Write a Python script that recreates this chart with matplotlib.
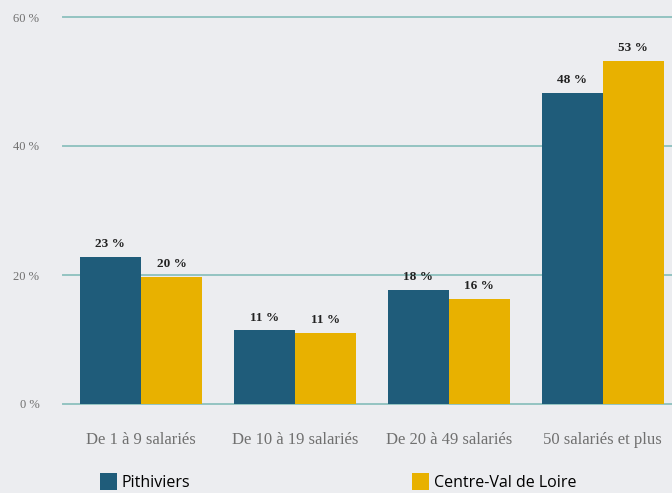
import matplotlib.pyplot as plt
import numpy as np

categories = ['De 1 à 9 salariés', 'De 10 à 19 salariés', 'De 20 à 49 salariés', '50 salariés et plus']
pithiviers = [22.8, 11.4, 17.7, 48.2]
centre = [19.7, 11.0, 16.3, 53.2]
pith_labels = ['23 %', '11 %', '18 %', '48 %']
centre_labels = ['20 %', '11 %', '16 %', '53 %']
yticks = [0, 20, 40, 60]

blue = '#1f5c7a'
yellow = '#e8b100'
bg = '#ecedf0'
grid = '#93c3c1'

W, H = 672, 493
fig = plt.figure(figsize=(W / 100, H / 100), dpi=100, facecolor=bg)
ax = fig.add_axes([63 / W, 89 / H, 1 - 63 / W, 387 / H], facecolor=bg)

x = np.arange(len(categories))
bw = 0.397
b1 = ax.bar(x - bw / 2, pithiviers, bw, color=blue, zorder=3)
b2 = ax.bar(x + bw / 2, centre, bw, color=yellow, zorder=3)

for bars, labs in ((b1, pith_labels), (b2, centre_labels)):
    for b, t in zip(bars, labs):
        ax.annotate(t, (b.get_x() + b.get_width() / 2, b.get_height()),
                    xytext=(0, 5), textcoords='offset points', ha='center', va='bottom',
                    fontsize=9.5, fontweight='bold', family='Liberation Serif', color='#222222')

ax.set_xlim(-0.506, 3.45)
ax.set_ylim(0, 60)
for v in yticks:
    ax.axhline(v, color=grid, lw=1.4, zorder=1, clip_on=False)
ax.set_yticks(yticks)
ax.set_yticklabels([f'{v} %' for v in yticks], family='Liberation Serif', fontsize=9, color='#707070')
ax.set_xticks(x)
ax.set_xticklabels(categories, family='Liberation Serif', fontsize=12, color='#707070')
ax.tick_params(length=0)
ax.tick_params(axis='y', pad=17)
ax.tick_params(axis='x', pad=20)
for s in ax.spines.values():
    s.set_visible(False)

leg = fig.legend([b1, b2], ['Pithiviers', 'Centre-Val de Loire'], loc='lower left',
                 bbox_to_anchor=(100 / W, 2 / H), ncol=2, frameon=False,
                 prop={'family': 'Open Sans', 'size': 11.5}, handlelength=1.05, handleheight=1.25,
                 handletextpad=0.3, columnspacing=13.9, borderpad=0, borderaxespad=0)

fig.savefig('out.png', dpi=100, facecolor=bg)
